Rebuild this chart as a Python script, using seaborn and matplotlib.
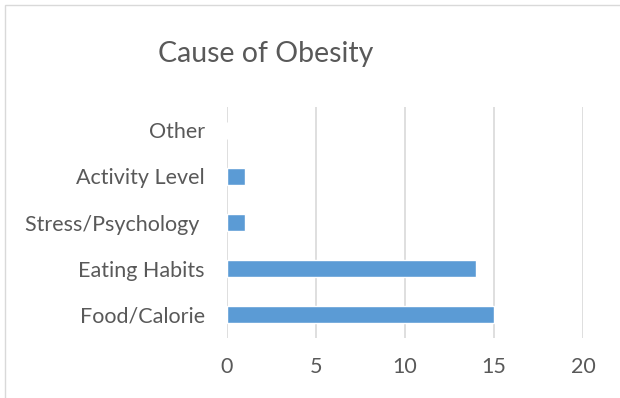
import matplotlib
matplotlib.use("Agg")
import matplotlib.pyplot as plt
import seaborn as sns
import pandas as pd
from matplotlib.patches import Rectangle

causes = ["Other", "Activity Level", "Stress/Psychology ", "Eating Habits", "Food/Calorie"]
counts = [0, 1, 1, 14, 15]
x_ticks = [0, 5, 10, 15, 20]

df = pd.DataFrame({"cause": causes, "count": counts})

sns.set_style("white")
plt.rcParams["font.family"] = ["Lato", "DejaVu Sans"]

text_color = "#595959"
fig = plt.figure(figsize=(6.2, 3.98), dpi=100)
ax = fig.add_axes([227 / 620, 60 / 398, 356 / 620, 231 / 398])

sns.barplot(data=df, x="count", y="cause", order=causes, color="#5B9BD5",
            saturation=1, width=0.37, ax=ax)

ax.set_xlim(0, 20)
ax.set_xticks(x_ticks)
ax.grid(axis="x", color="#D9D9D9", linewidth=1.2)
ax.set_axisbelow(True)
for s in ax.spines.values():
    s.set_visible(False)
ax.set_xlabel("")
ax.set_ylabel("")
ax.tick_params(axis="x", length=0, pad=14, labelsize=15.5, labelcolor=text_color)
ax.tick_params(axis="y", length=0, pad=16, labelsize=15.5, labelcolor=text_color)

fig.text(0.428, 0.865, "Cause of Obesity", ha="center", va="center",
         fontsize=20.5, color=text_color)

# chart border like the Excel chart frame
fig.patches.append(Rectangle((5 / 620, -0.1), 1.2, (393 / 398) + 0.1,
                             transform=fig.transFigure, fill=False,
                             edgecolor="#D9D9D9", linewidth=1))

fig.savefig("out.png", dpi=100)
